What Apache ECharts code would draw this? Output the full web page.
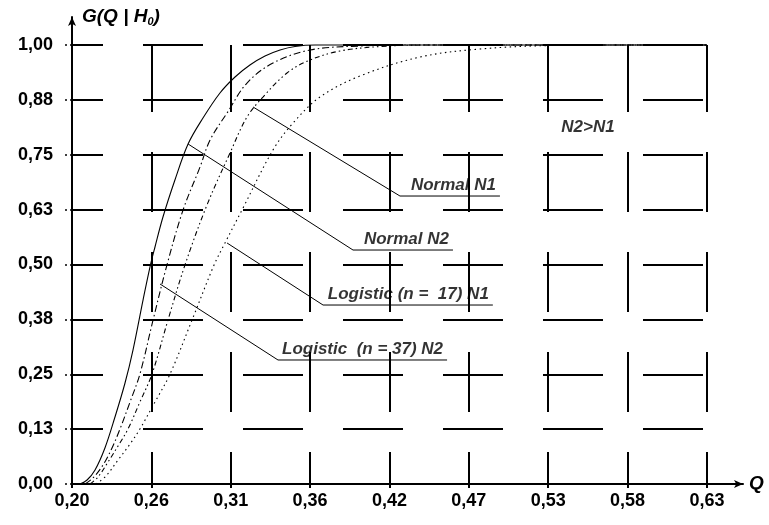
<!DOCTYPE html>
<html>
<head>
<meta charset="utf-8">
<script src="https://cdn.jsdelivr.net/npm/echarts@6/dist/echarts.min.js"></script>
<style>html,body{margin:0;padding:0;background:#fff}#c{width:769px;height:525px}</style>
</head>
<body>
<div id="c"></div>
<script>
// ---- tick labels ----
const xTickLabels = ['0,20','0,26','0,31','0,36','0,42','0,47','0,53','0,58','0,63'];
const yTickLabels = ['0,00','0,13','0,25','0,38','0,50','0,63','0,75','0,88','1,00'];
const xMin = 0.20, xLastTick = 0.63;
const yMin = 0, yLastTick = 1.0;

// ---- curves: [Q, G(Q|H0)] ----
const normalN2 = [[0.2054,0],[0.2102,0.0091],[0.2156,0.0319],[0.2223,0.082],[0.2291,0.1526],[0.2359,0.2301],[0.2413,0.3052],[0.2481,0.4191],[0.2528,0.4943],[0.2562,0.5399],[0.2616,0.6082],[0.2697,0.6925],[0.2786,0.7745],[0.2887,0.8337],[0.3002,0.8907],[0.3104,0.9271],[0.3205,0.9544],[0.3307,0.9749],[0.3409,0.9886],[0.3510,0.9966],[0.3646,1],[0.63,1]];
const logisticN2 = [[0.2088,0],[0.2142,0.0137],[0.2210,0.0433],[0.2271,0.082],[0.2325,0.1253],[0.2393,0.1868],[0.2460,0.2506],[0.2549,0.3736],[0.2643,0.4989],[0.2752,0.6241],[0.2867,0.7221],[0.2935,0.7836],[0.3050,0.8451],[0.3185,0.9134],[0.3361,0.9590],[0.3612,0.9886],[0.3950,0.9977],[0.4357,1],[0.63,1]];
const normalN1 = [[0.2122,0],[0.2176,0.0159],[0.2244,0.0501],[0.2312,0.0866],[0.2379,0.1253],[0.2460,0.1868],[0.2542,0.2506],[0.2650,0.3736],[0.2765,0.4989],[0.2914,0.6355],[0.3070,0.754],[0.3185,0.836],[0.3293,0.8815],[0.3456,0.9362],[0.3612,0.9658],[0.3815,0.9863],[0.4086,0.9966],[0.4424,1],[0.63,1]];
const logisticN1 = [[0.2163,0],[0.2230,0.0182],[0.2312,0.0547],[0.2393,0.0911],[0.2460,0.1253],[0.2562,0.1868],[0.2664,0.2506],[0.2813,0.3736],[0.2962,0.4989],[0.3036,0.549],[0.3151,0.6241],[0.3361,0.7608],[0.3497,0.8223],[0.3679,0.8815],[0.3950,0.9294],[0.4357,0.9727],[0.4763,0.9909],[0.5237,0.9989],[0.5575,1],[0.63,1]];

// ---- annotations ----
const annTexts = ['Normal N1','Normal N2','Logistic (n =  17) N1','Logistic  (n = 37) N2'];
const annLeaders = [
  [[0.3226,0.8588],[0.4221,0.656],[0.4898,0.656]],
  [[0.2786,0.7745],[0.3903,0.533],[0.458,0.533]],
  [[0.305,0.549],[0.370,0.4077],[0.485,0.4077]],
  [[0.2596,0.4556],[0.3395,0.2825],[0.454,0.2825]]
];
const noteText = 'N2>N1';
const notePoint = [0.5494, 0.813];

// ---- build ----
const xStep = (xLastTick - xMin) / (xTickLabels.length - 1);
const yStep = (yLastTick - yMin) / (yTickLabels.length - 1);
const xTickValues = xTickLabels.map((_, i) => xMin + i * xStep);
const yTickValues = yTickLabels.map((_, i) => yMin + i * yStep);
const xLabelOf = v => xTickLabels[Math.round((v - xMin) / xStep)];
const yLabelOf = v => yTickLabels[Math.round((v - yMin) / yStep)];

const FONT = "'Liberation Sans', Arial, sans-serif";
const curveStyle = (type) => ({ type: 'line', smooth: 0.35, showSymbol: false, symbol: 'none', silent: true,
  lineStyle: { color: '#000', width: 1.1, type: type } });

const series = [
  Object.assign(curveStyle('solid'), { name: 'Normal N2', data: normalN2 }),
  Object.assign(curveStyle([7, 3, 1.5, 3]), { name: 'Logistic N2', data: logisticN2 }),
  Object.assign(curveStyle([5, 3, 1.5, 3, 1.5, 3]), { name: 'Normal N1', data: normalN1 }),
  Object.assign(curveStyle([1.5, 3.5]), { name: 'Logistic N1', data: logisticN1 })
];
annLeaders.forEach((pts) => {
  series.push({ type: 'line', data: pts, symbol: 'none', silent: true, z: 3,
    lineStyle: { color: '#000', width: 1 } });
});
series.push({
  type: 'scatter', symbolSize: 0, silent: true, z: 4,
  data: annLeaders.map((pts, i) => ({ value: pts[pts.length - 1], label: { formatter: annTexts[i] } })),
  label: { show: true, position: [-4, -2], align: 'right', verticalAlign: 'bottom',
    color: '#000', fontFamily: FONT, fontWeight: 'bold', fontStyle: 'italic', fontSize: 17 }
});
series.push({
  type: 'scatter', symbolSize: 0, silent: true, z: 4,
  data: [{ value: notePoint }],
  label: { show: true, position: [0, 0], align: 'center', verticalAlign: 'middle', formatter: noteText,
    color: '#000', fontFamily: FONT, fontWeight: 'bold', fontStyle: 'italic', fontSize: 17 }
});

const chart = echarts.init(document.getElementById('c'), null, { renderer: 'canvas' });
chart.setOption({
  animation: false,
  backgroundColor: '#fff',
  grid: { left: 72, right: 26, top: 17, bottom: 41, containLabel: false, outerBoundsMode: 'none' },
  xAxis: {
    type: 'value', min: xMin, max: 0.6544,
    name: 'Q', nameLocation: 'end', nameGap: 6,
    nameTextStyle: { color: '#000', fontFamily: FONT, fontWeight: 'bold', fontStyle: 'italic', fontSize: 19, verticalAlign: 'middle' },
    axisLine: { show: true, symbol: ['none', 'arrow'], symbolSize: [6, 9], lineStyle: { color: '#000', width: 2 } },
    axisTick: { show: true, inside: false, length: 4, customValues: xTickValues, lineStyle: { color: '#000', width: 2 } },
    axisLabel: { show: true, customValues: xTickValues, formatter: xLabelOf, margin: 8, color: '#000',
      fontFamily: FONT, fontWeight: 'bold', fontSize: 18 },
    splitLine: { show: true, lineStyle: { color: '#000', width: 2, type: [0, 28, 67, 40, 60, 40, 60, 40, 60, 40, 60, 40] } }
  },
  yAxis: {
    type: 'value', min: yMin, max: 1.0638,
    name: 'G(Q | H{s|0})', nameLocation: 'end', nameGap: 0,
    nameTextStyle: { color: '#000', fontFamily: FONT, fontWeight: 'bold', fontStyle: 'italic', fontSize: 19,
      align: 'left', verticalAlign: 'middle', padding: [0, 0, 0, 10],
      rich: { s: { fontFamily: FONT, fontWeight: 'bold', fontStyle: 'italic', fontSize: 11, color: '#000', padding: [9, 0, 0, 0] } } },
    axisLine: { show: true, symbol: ['none', 'arrow'], symbolSize: [6, 9], lineStyle: { color: '#000', width: 2 } },
    axisTick: { show: true, inside: false, length: 9, customValues: yTickValues, lineStyle: { color: '#000', width: 1.5, type: [2, 3] } },
    axisLabel: { show: true, customValues: yTickValues, formatter: yLabelOf, margin: 19, color: '#000',
      fontFamily: FONT, fontWeight: 'bold', fontSize: 18 },
    splitLine: { show: true, lineStyle: { color: '#000', width: 2, type: [60, 40], dashOffset: 29 } }
  },
  series: series
});
</script>
</body>
</html>
